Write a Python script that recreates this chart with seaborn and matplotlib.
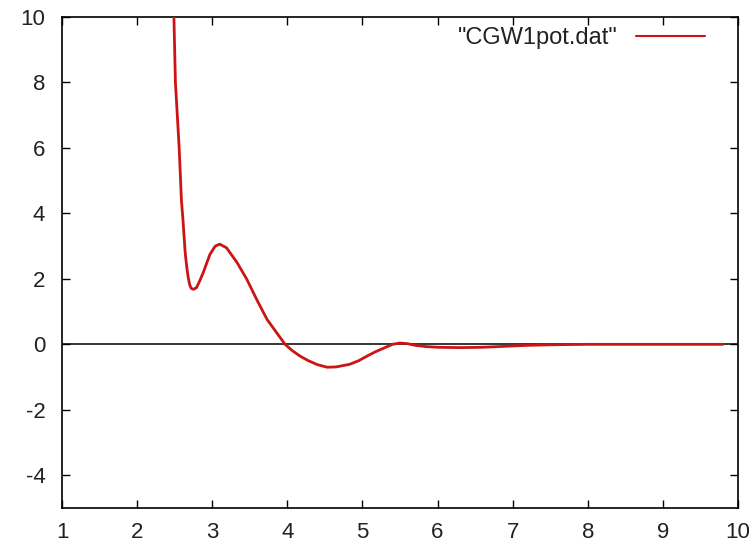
import matplotlib
matplotlib.use("Agg")
import matplotlib.pyplot as plt
import seaborn as sns
import pandas as pd

x_vals = [2.49, 2.51, 2.535, 2.56, 2.59, 2.61, 2.64, 2.66, 2.68, 2.70, 2.72, 2.75, 2.79, 2.83,
          2.88, 2.97, 3.04, 3.10, 3.19, 3.33, 3.46, 3.59, 3.73, 3.85, 3.97, 4.07, 4.17, 4.28,
          4.40, 4.53, 4.65, 4.83, 4.95, 5.06, 5.17, 5.28, 5.40, 5.50, 5.60, 5.70, 5.85,
          6.00, 6.30, 6.60, 6.90, 7.20, 7.60, 8.00, 8.50, 9.00, 9.50, 9.80]
y_vals = [10.0, 8.0, 7.0, 6.0, 4.4, 3.82, 2.8, 2.38, 2.05, 1.82, 1.71, 1.68, 1.73, 1.92,
          2.19, 2.75, 3.0, 3.06, 2.95, 2.5, 1.99, 1.38, 0.76, 0.38, 0.0, -0.2, -0.36, -0.5,
          -0.62, -0.7, -0.69, -0.61, -0.5, -0.36, -0.23, -0.12, 0.0, 0.04, 0.02, -0.03, -0.07,
          -0.09, -0.10, -0.09, -0.06, -0.03, -0.01, 0.0, 0.0, 0.0, 0.0, 0.0]
series_label = '"CGW1pot.dat"'
x_ticks = [1, 2, 3, 4, 5, 6, 7, 8, 9, 10]
x_tick_labels = ["1", "2", "3", "4", "5", "6", "7", "8", "9", "10"]
y_ticks = [-4, -2, 0, 2, 4, 6, 8, 10]
y_tick_labels = ["-4", "-2", "0", "2", "4", "6", "8", "10"]

df = pd.DataFrame({"x": x_vals, "y": y_vals})

sns.set_style("ticks")
plt.rcParams["font.family"] = ["Liberation Sans", "DejaVu Sans"]

fig = plt.figure(figsize=(7.56, 5.45), dpi=100)
ax = fig.add_axes([62 / 756, 1 - 508 / 545, (738 - 62) / 756, (508 - 17) / 545])

ax.axhline(0, color="black", lw=1.1, zorder=1)
sns.lineplot(data=df, x="x", y="y", ax=ax, color="#cc1414", lw=2.0,
             estimator=None, sort=False, label=series_label, zorder=3)

ax.set_xlim(1, 10)
ax.set_ylim(-5, 10)
ax.set_xticks(x_ticks)
ax.set_xticklabels(x_tick_labels)
ax.set_yticks(y_ticks)
ax.set_yticklabels(y_tick_labels)
ax.set_xlabel("")
ax.set_ylabel("")
for s in ax.spines.values():
    s.set_visible(True)
    s.set_linewidth(1.2)
    s.set_color("black")
ax.tick_params(direction="in", length=6, width=1.0, top=True, right=True,
               labelsize=16, colors="black", labelcolor="#222222")
ax.tick_params(axis="y", pad=12)
ax.tick_params(axis="x", pad=10)

leg = ax.legend(loc="upper right", frameon=False, markerfirst=False,
                fontsize=17, handlelength=2.9, bbox_to_anchor=(0.951, 0.979),
                handletextpad=0.8, borderaxespad=0.0, borderpad=0.0)
for line in leg.get_lines():
    line.set_linewidth(1.5)
for t in leg.get_texts():
    t.set_color("#222222")

fig.savefig("out.png", dpi=100)
